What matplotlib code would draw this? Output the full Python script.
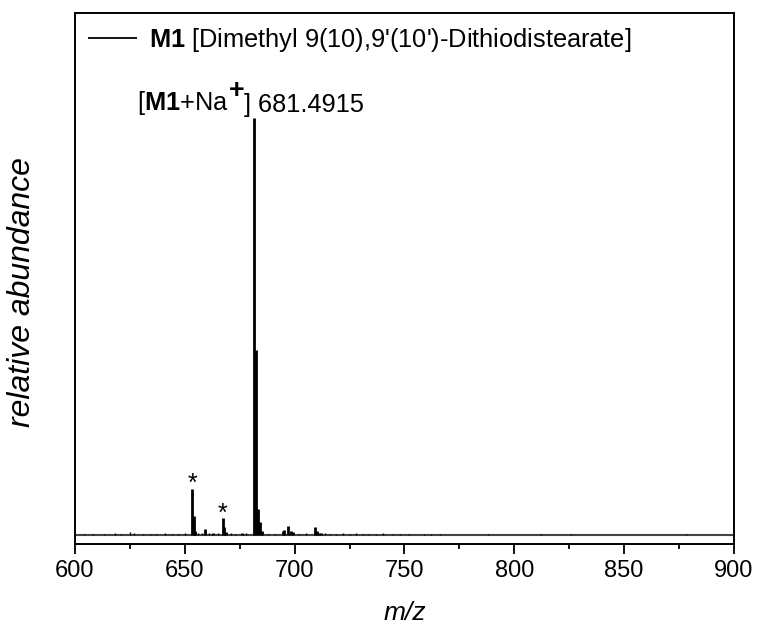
import matplotlib
matplotlib.use("Agg")
import matplotlib.pyplot as plt
from matplotlib.ticker import MultipleLocator

plt.rcParams["font.family"] = ["Liberation Sans", "DejaVu Sans"]
plt.rcParams["mathtext.fontset"] = "custom"
plt.rcParams["mathtext.rm"] = "Liberation Sans"
plt.rcParams["mathtext.bf"] = "Liberation Sans:bold"
plt.rcParams["mathtext.it"] = "Liberation Sans:italic"

# ESI-MS peaks for M1 (m/z, relative intensity)
peak_mz = [653.4, 654.2, 654.8, 659.3, 663.0, 667.2, 668.0, 668.7, 676.2,
           681.4915, 682.49, 683.5, 684.4, 685.1, 694.8, 695.1, 697.2,
           698.4, 699.2, 709.1, 710.0, 710.9, 712.0]
peak_int = [0.110, 0.045, 0.010, 0.013, 0.005, 0.040, 0.018, 0.006, 0.005,
            1.000, 0.442, 0.062, 0.030, 0.010, 0.009, 0.011, 0.021,
            0.010, 0.006, 0.018, 0.008, 0.005, 0.004]

# low-level noise along the baseline
noise_mz = [604, 608, 613, 618, 621, 625, 627, 631, 634, 637, 641, 644, 647,
            650, 656, 658, 661, 665, 671, 673, 678, 688, 691, 702, 705, 714,
            716, 719, 722, 725, 728, 731, 734, 737, 740, 745, 748, 752, 759,
            762, 766, 788, 812, 826, 878]
noise_int = [0.002, 0.002, 0.002, 0.003, 0.002, 0.006, 0.003, 0.002, 0.002,
             0.002, 0.003, 0.002, 0.002, 0.003, 0.004, 0.005, 0.003, 0.003,
             0.003, 0.002, 0.003, 0.002, 0.002, 0.002, 0.003, 0.003, 0.002,
             0.002, 0.003, 0.002, 0.003, 0.002, 0.002, 0.002, 0.003, 0.002,
             0.002, 0.002, 0.002, 0.002, 0.002, 0.002, 0.002, 0.002, 0.002]

starred = [653.4, 667.2]
base_peak = 681.4915

fs = 18.3

fig = plt.figure(figsize=(7.58, 6.28), dpi=100)
ax = fig.add_axes([0.0989, 0.1333, 0.8694, 0.8455])

ax.axhline(0, color="#444444", linewidth=1.5, zorder=1)
ax.vlines(noise_mz, 0, noise_int, color="black", linewidth=1.0, zorder=2)
ax.vlines(peak_mz, 0, peak_int, color="black", linewidth=2.0, zorder=3,
          label=r"$\mathbf{M1}$ [Dimethyl 9(10),9'(10')-Dithiodistearate]")

for mz in starred:
    h = peak_int[peak_mz.index(mz)]
    ax.text(mz, h - 0.018, "*", ha="center", va="bottom", fontsize=18)

# [M1+Na]+ label, built in pieces so the charge sign stays full size
t1 = ax.text(0.094, 0.805, r"[$\mathbf{M1}$+Na", transform=ax.transAxes,
             ha="left", va="bottom", fontsize=fs)
t2 = ax.annotate("+", xy=(1.0, 0.45), xycoords=t1, ha="left", va="bottom",
                 fontsize=fs + 1, fontweight="bold")
ax.annotate(f"] {base_peak:.4f}", xy=(1.0, 0.0), xycoords=(t2, t1),
            ha="left", va="bottom", fontsize=fs)

ax.set_xlim(600, 900)
ax.set_ylim(-0.023, 1.251)
ax.xaxis.set_major_locator(MultipleLocator(50))
ax.xaxis.set_minor_locator(MultipleLocator(25))
ax.tick_params(axis="x", which="major", direction="out", length=7, width=1.3,
               labelsize=17, pad=4)
ax.tick_params(axis="x", which="minor", direction="out", length=3.5, width=1.3)
ax.set_yticks([])
for sp in ax.spines.values():
    sp.set_linewidth(1.4)

ax.set_xlabel("m/z", fontsize=19, style="italic")
ax.xaxis.set_label_coords(0.5, -0.13)
ax.xaxis.label.set_verticalalignment("center")
ax.set_ylabel("relative abundance", fontsize=23, style="italic")
ax.yaxis.set_label_coords(-0.080, 0.475)
ax.yaxis.label.set_verticalalignment("center")

leg = ax.legend(loc="upper left", frameon=False, fontsize=fs,
                handlelength=1.95, handletextpad=0.45,
                bbox_to_anchor=(0.0, 1.0), borderaxespad=0.1)
for h in leg.legend_handles:
    h.set_linewidth(1.3)

fig.savefig("out.png", dpi=100)
